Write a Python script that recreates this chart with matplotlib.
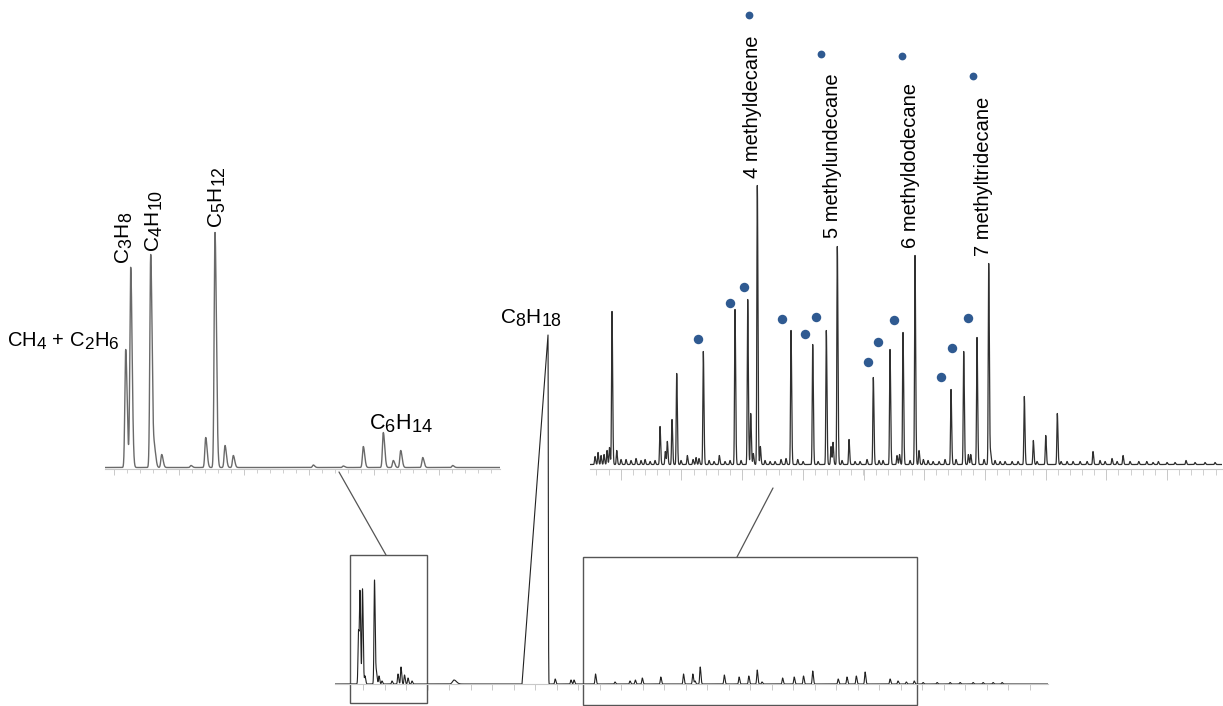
import numpy as np
import matplotlib
matplotlib.use("Agg")
import matplotlib.pyplot as plt
from matplotlib.patches import Rectangle, ConnectionPatch
try:
    import matplotlib._mathtext as _mt
    _mt.SHRINK_FACTOR = 0.85
except Exception:
    pass

plt.rcParams['font.family'] = ['Liberation Sans', 'DejaVu Sans']
plt.rcParams['mathtext.fontset'] = 'custom'
plt.rcParams['mathtext.rm'] = 'Liberation Sans'
plt.rcParams['mathtext.it'] = 'Liberation Sans'
plt.rcParams['mathtext.default'] = 'regular'

# ---------------- data ----------------
# full chromatogram (bottom)
main_rt = [2.85, 3.0, 3.25, 3.5, 4.45, 4.65, 4.9, 5.2, 6.2, 6.8, 7.1, 7.45, 7.8, 8.2,
           22.52, 24.1, 24.4, 26.55, 28.5, 30.0, 30.53, 31.23, 33.08, 35.35, 36.28, 36.5,
           37.02, 39.43, 40.91, 41.88, 42.72, 43.2, 45.26, 46.42, 47.35, 48.27, 50.82,
           51.7, 52.63, 53.51, 56.01, 56.8, 57.63, 58.42, 59.3, 60.7, 62.0, 63.0, 64.3,
           65.3, 66.3, 67.2]
main_h = [53, 88, 95, 8, 104, 12, 8, 3, 3, 10, 17, 9, 6, 3,
          5, 4, 4, 10, 2, 3, 4, 6, 7, 10, 10, 3,
          17, 9, 7, 8, 14, 2, 6, 7, 8, 13, 5,
          7, 8, 12, 5, 3, 2, 3, 1.5, 1.5, 1.5, 1.5, 1.5,
          1.5, 1.5, 1.5]
main_hump_rt = [12.4]
main_hump_h = [4]
main_hump_w = [0.15]
# overloaded octane peak (fronting)
c8_rt = 21.8
c8_h = 349
c8_front = 2.6
c8_label = 'C$_8$H$_{18}$'

# zoom windows on the full chromatogram (rt range, signal range)
box_light_rt = [2.0, 9.7]
box_light_sig = [-19, 129]
box_heavy_rt = [25.3, 58.7]
box_heavy_sig = [-21, 127]

# light hydrocarbons inset
light_rt = [2.57, 3.07, 5.07, 5.45, 6.17, 9.1, 10.57, 11.5, 12.5, 13.33, 21.33, 24.33,
            26.33, 28.33, 29.33, 30.07, 32.27, 35.27]
light_h = [118, 200, 213, 18, 13, 2, 30, 235, 22, 12, 2.5, 1.5,
           21, 35, 7, 17, 10, 2]
light_labels = ['CH$_4$ + C$_2$H$_6$', 'C$_3$H$_8$', 'C$_4$H$_{10}$', 'C$_5$H$_{12}$', 'C$_6$H$_{14}$']
light_label_rt = [2.57, 3.07, 5.07, 11.5, 28.33]

# heavy hydrocarbons inset
heavy_rt = [1.0, 1.3, 1.6, 1.9, 2.2, 2.45, 2.7, 3.17, 3.6, 4.1, 4.6, 5.1, 5.6, 6.0, 6.5, 7.0,
            7.5, 8.03, 8.23, 8.7, 9.17, 9.6, 10.23, 10.8, 11.1, 11.4, 11.83, 12.4, 12.9, 13.43,
            14.0, 14.5, 15.0, 15.6, 16.27, 16.57, 16.83, 17.23, 17.53, 18.0, 18.5, 19.0, 19.6,
            20.1, 20.6, 21.27, 21.8, 22.77, 23.3, 24.13, 24.6, 24.8, 25.23, 25.7, 26.4, 27.0,
            27.5, 28.2, 28.83, 29.4, 29.8, 30.5, 31.2, 31.45, 31.8, 32.5, 33.0, 33.4, 33.83,
            34.3, 34.8, 35.4, 36.0, 36.6, 37.1, 37.87, 38.33, 38.57, 39.2, 39.9, 40.37, 40.57,
            41.0, 41.5, 42.0, 42.7, 43.3, 43.93, 44.83, 45.2, 46.07, 47.23, 47.6, 48.2, 48.8,
            49.5, 50.2, 50.8, 51.5, 52.0, 52.7, 53.2, 53.8, 54.5, 55.37, 56.17, 56.8, 57.33,
            58.2, 59.0, 60.1, 61.0, 62.0, 63.0]
heavy_h = [8, 12, 9, 10, 14, 17, 153, 14, 5, 5, 4, 6, 4, 5, 3, 4,
           38, 13, 23, 45, 91, 4, 9, 5, 7, 6, 113, 4, 3, 9,
           3, 4, 155, 4, 165, 51, 11, 279, 18, 4, 3, 3, 5,
           6, 134, 5, 3, 120, 3, 134, 18, 22, 218, 4, 25, 3,
           3, 5, 87, 4, 4, 115, 9, 10, 132, 4, 209, 14, 5,
           4, 3, 3, 5, 75, 5, 113, 10, 10, 127, 5, 201, 11,
           4, 3, 3, 3, 3, 68, 24, 3, 29, 51, 3, 3, 3,
           3, 3, 13, 4, 3, 6, 3, 9, 3, 3, 3, 2, 3,
           2, 2, 4, 2, 2, 2]
# methyl-branched alkanes (marked with dots)
dot_rt = [11.33, 14.53, 15.93, 19.73, 22.0, 23.1, 28.33, 29.33, 30.9, 35.6, 36.73, 38.33]
dot_sig = [125.2, 161.8, 177.8, 145.8, 130.2, 147.8, 102.5, 122.8, 144.5, 87.2, 116.5, 146.2]
named_labels = ['4 methyldecane', '5 methylundecane', '6 methyldodecane', '7 methyltridecane']
named_rt = [17.23, 25.23, 33.0, 40.37]
named_dot_rt = [16.43, 23.57, 31.67, 38.83]
named_dot_sig = [449.8, 410.8, 408.5, 388.5]

# ---------------- helpers ----------------
W, H = 1223, 706


def px_axes(fig, left, top, right, bottom):
    return fig.add_axes([left / W, 1 - bottom / H, (right - left) / W, (bottom - top) / H])


def trace(t, centers, heights, sl, sr):
    y = np.zeros_like(t)
    for c, h in zip(centers, heights):
        s = np.where(t < c, sl, sr)
        y += h * np.exp(-0.5 * ((t - c) / s) ** 2)
    return y


def style_axis(ax, spine_y, majors, minors, maj_len, min_len):
    for s in ['left', 'right', 'top']:
        ax.spines[s].set_visible(False)
    ax.spines['bottom'].set_position(('data', spine_y))
    ax.spines['bottom'].set_color('#c8c8c8')
    ax.spines['bottom'].set_linewidth(0.8)
    ax.set_yticks([])
    ax.set_xticks(majors)
    ax.set_xticks(minors, minor=True)
    ax.tick_params(axis='x', which='major', direction='out', length=maj_len, width=0.6,
                   color='#c0c0c0', labelbottom=False)
    ax.tick_params(axis='x', which='minor', direction='out', length=min_len, width=0.6,
                   color='#c8c8c8', labelbottom=False)
    ax.patch.set_alpha(0)


fig = plt.figure(figsize=(W / 100, H / 100), dpi=100)

# ---------------- main chromatogram ----------------
axm = px_axes(fig, 335, 300, 1048, 706)
axm.set_xlim(0.5, 71.8)
axm.set_ylim(-22, 384)
tm = np.arange(0.5, 71.8, 0.005)
ym = trace(tm, main_rt, main_h, 0.05, 0.07)
ym += trace(tm, main_hump_rt, main_hump_h, main_hump_w[0], main_hump_w[0] * 1.6)
ramp = np.where((tm >= c8_rt - c8_front) & (tm <= c8_rt),
                c8_h * (tm - (c8_rt - c8_front)) / c8_front, 0.0)
ym += ramp + np.where(tm > c8_rt, c8_h * np.exp(-0.5 * ((tm - c8_rt) / 0.03) ** 2), 0.0)
axm.plot(tm, ym, color='#222222', lw=0.8)
style_axis(axm, 0, np.arange(3.33, 71.5, 2.15), [], 4, 2)
axm.annotate(c8_label, (c8_rt, c8_h), xytext=(-12, 4), textcoords='offset points',
             ha='center', va='bottom', fontsize=15)
for rt, sig in [(box_light_rt, box_light_sig), (box_heavy_rt, box_heavy_sig)]:
    axm.add_patch(Rectangle((rt[0], sig[0]), rt[1] - rt[0], sig[1] - sig[0],
                            fill=False, ec='#555555', lw=1.0, clip_on=False))

# ---------------- light hydrocarbons inset ----------------
axl = px_axes(fig, 105, 160, 500, 480)
axl.set_xlim(0.5, 40.0)
axl.set_ylim(-12.5, 307.5)
tl = np.arange(0.5, 40.0, 0.005)
yl = trace(tl, light_rt, light_h, 0.085, 0.14)
axl.plot(tl, yl, color='#6a6a6a', lw=1.0)
style_axis(axl, -1, np.arange(1.4, 40, 6.5), np.arange(1.4, 40, 1.3), 4, 3)

lab_h = [light_h[light_rt.index(r)] for r in light_label_rt]
lab_cfg = [dict(rot=0, ha='right', va='baseline', dx=-6, dy=3, fs=14.5),
           dict(rot=90, ha='center', va='bottom', dx=-6, dy=3, fs=15),
           dict(rot=90, ha='center', va='bottom', dx=4, dy=2, fs=15),
           dict(rot=90, ha='center', va='bottom', dx=2, dy=5, fs=15),
           dict(rot=0, ha='center', va='baseline', dx=18, dy=3, fs=15.5)]
for txt, rt, h, cfg in zip(light_labels, light_label_rt, lab_h, lab_cfg):
    axl.annotate(txt, (rt, h), xytext=(cfg['dx'] * 0.72, cfg['dy'] * 0.72),
                 textcoords='offset points', rotation=cfg['rot'], ha=cfg['ha'],
                 va=cfg['va'], fontsize=cfg['fs'], annotation_clip=False)

# ---------------- heavy hydrocarbons inset ----------------
axh = px_axes(fig, 590, 0, 1222, 480)
axh.set_xlim(0.5, 63.7)
axh.set_ylim(-15.5, 464.5)
th = np.arange(0.5, 63.7, 0.005)
yh = trace(th, heavy_rt, heavy_h, 0.045, 0.065)
axh.plot(th, yh, color='#303030', lw=0.9)
style_axis(axh, -4, np.arange(3.57, 63.7, 6.07), np.arange(1.14, 63.7, 1.214), 8, 4)
axh.plot(dot_rt, dot_sig, 'o', color='#2f5a91', ms=6.8, mec='none', clip_on=False)
axh.plot(named_dot_rt, named_dot_sig, 'o', color='#2f5a91', ms=5.6, mec='none', clip_on=False)
for txt, rt in zip(named_labels, named_rt):
    h = heavy_h[heavy_rt.index(rt)]
    axh.annotate(txt, (rt, h), xytext=(-5 * 0.72, 8 * 0.72), textcoords='offset points',
                 rotation=90, ha='center', va='bottom', fontsize=14.5, annotation_clip=False)

# ---------------- connectors ----------------
for axA, pA, pB in [(axl, (23.9, -4.5), (5.6, box_light_sig[1])),
                    (axh, (18.8, -23.5), (40.7, box_heavy_sig[1]))]:
    con = ConnectionPatch(xyA=pA, coordsA=axA.transData, xyB=pB, coordsB=axm.transData,
                          color='#555555', lw=0.9)
    fig.add_artist(con)

fig.savefig('out.png', dpi=100)
